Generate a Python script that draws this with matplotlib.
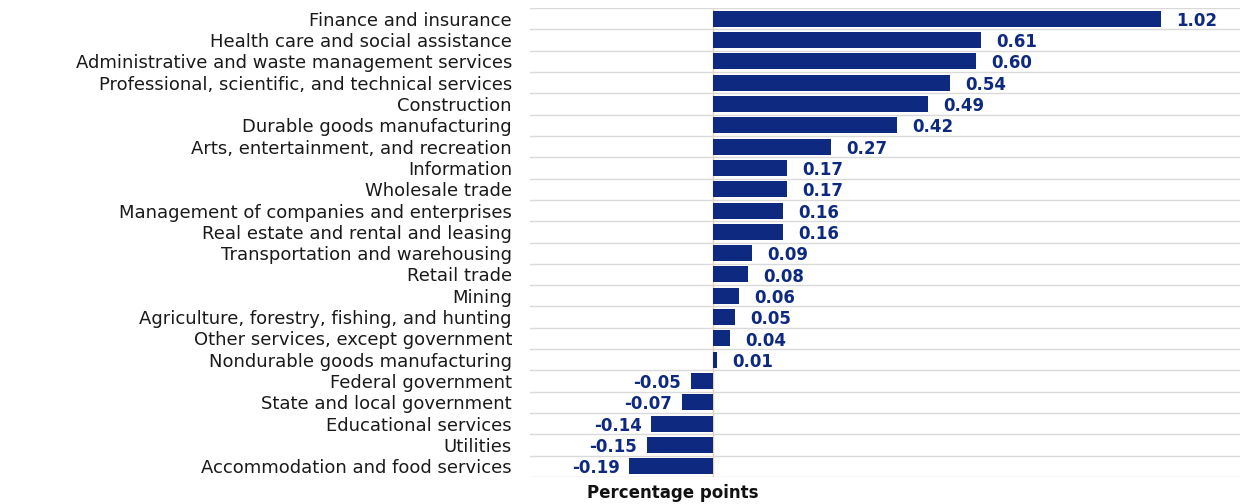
import matplotlib.pyplot as plt
import numpy as np

industries = [
    "Finance and insurance",
    "Health care and social assistance",
    "Administrative and waste management services",
    "Professional, scientific, and technical services",
    "Construction",
    "Durable goods manufacturing",
    "Arts, entertainment, and recreation",
    "Information",
    "Wholesale trade",
    "Management of companies and enterprises",
    "Real estate and rental and leasing",
    "Transportation and warehousing",
    "Retail trade",
    "Mining",
    "Agriculture, forestry, fishing, and hunting",
    "Other services, except government",
    "Nondurable goods manufacturing",
    "Federal government",
    "State and local government",
    "Educational services",
    "Utilities",
    "Accommodation and food services",
]
contrib = [1.02, 0.61, 0.60, 0.54, 0.49, 0.42, 0.27, 0.17, 0.17, 0.16, 0.16,
           0.09, 0.08, 0.06, 0.05, 0.04, 0.01, -0.05, -0.07, -0.14, -0.15, -0.19]

navy = '#0e2a80'
plt.rcParams['font.family'] = ['DejaVu Sans']

fig = plt.figure(figsize=(12.46, 5.04), dpi=100)
ax = fig.add_axes([530 / 1246, 1 - 477 / 504, 710 / 1246, 469 / 504])

y = np.arange(len(industries))
ax.barh(y, contrib, height=0.75, color=navy, zorder=3)

for yi, v in zip(y, contrib):
    if v >= 0:
        ax.annotate('%.2f' % v, (v, yi), xytext=(11, -1.5), textcoords='offset points',
                    ha='left', va='center', fontsize=12, fontweight='bold', color=navy)
    else:
        ax.annotate('%.2f' % v, (v, yi), xytext=(-7, -1.5), textcoords='offset points',
                    ha='right', va='center', fontsize=12, fontweight='bold', color=navy)

ax.set_xlim(-0.416, 1.2)
ax.set_ylim(len(industries) - 0.5, -0.5)
ax.set_yticks(y)
ax.set_yticklabels(industries, fontsize=13, color='#1a1a1a', va='center_baseline')
ax.set_yticks(np.arange(-0.5, len(industries)), minor=True)
ax.tick_params(axis='y', which='both', length=0, pad=13)
ax.set_xticks([])
ax.grid(axis='y', which='minor', color='#d9d9d9', linewidth=1, zorder=0)
ax.axvline(0, color='#e8d0b0', linewidth=1, zorder=2)
for s in ax.spines.values():
    s.set_visible(False)

fig.text(673 / 1246, 1 - 493 / 504, 'Percentage points', ha='center', va='center',
         fontsize=12, fontweight='bold', color='#111111')

fig.savefig('out.png', dpi=100)
